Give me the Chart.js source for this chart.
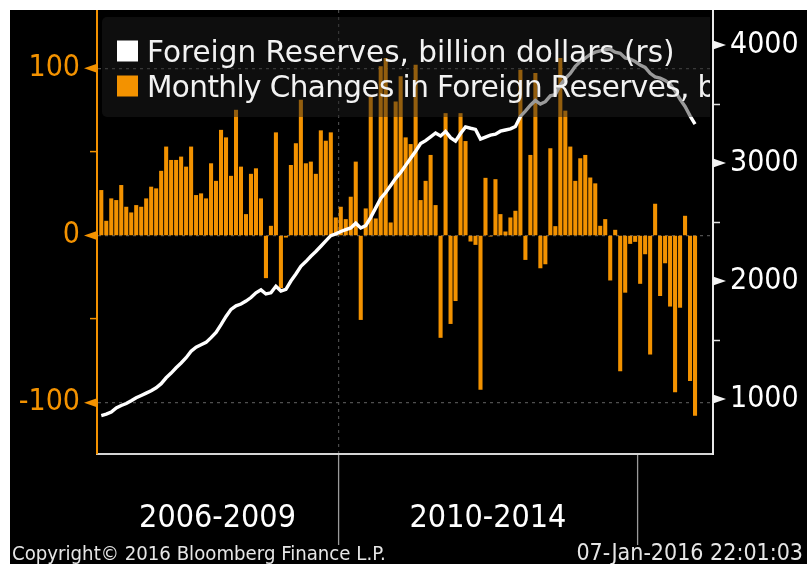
<!DOCTYPE html>
<html>
<head>
<meta charset="utf-8">
<script src="https://cdn.jsdelivr.net/npm/chart.js@4.4.1/dist/chart.umd.min.js"></script>
<style>
  html, body { margin: 0; padding: 0; background: #fff; }
  #wrap { position: absolute; left: 10px; top: 10px; width: 797px; height: 554px; background: #000; }
</style>
</head>
<body>
<div id="wrap"><canvas id="reserveChart" width="797" height="554"></canvas></div>
<script>
// Monthly data, Jan 2006 .. Dec 2015
const reserveLabel = "Foreign Reserves, billion dollars (rs)";
const changeLabel = "Monthly Changes in Foreign Reserves, billion dollars";

// foreign reserves, billion dollars (right scale)
const reserves = [
  860, 872, 890, 925, 945, 962, 985, 1010, 1030, 1050,
  1070, 1095, 1130, 1180, 1220, 1265, 1305, 1350, 1405, 1440,
  1460, 1480, 1520, 1565, 1630, 1700, 1760, 1790, 1805, 1830,
  1860, 1900, 1925, 1890, 1900, 1955, 1915, 1930, 2000, 2060,
  2125, 2165, 2210, 2250, 2295, 2340, 2385, 2400, 2420, 2435,
  2450, 2490, 2450, 2470, 2540, 2620, 2700, 2750, 2810, 2870,
  2920, 2980, 3040, 3100, 3165, 3190, 3222, 3255, 3230, 3268,
  3215, 3186, 3250, 3306, 3295, 3285, 3203, 3220, 3236, 3245,
  3270, 3280, 3290, 3310, 3395, 3440, 3490, 3530, 3500, 3520,
  3570, 3580, 3660, 3715, 3760, 3820, 3860, 3890, 3920, 3940,
  3950, 3960, 3965, 3940, 3930, 3890, 3880, 3860, 3830, 3810,
  3760, 3730, 3720, 3700, 3670, 3610, 3540, 3480, 3400, 3330
];

// monthly changes, billion dollars (left scale)
const changes = [
  27, 8.6, 22, 21, 30, 17, 13.6, 18, 17, 22,
  29, 28, 38.5, 53, 45, 45, 47, 41, 53, 24,
  25, 22, 43, 32.5, 63, 58.5, 35.5, 75, 41, 12.6,
  36.7, 40, 22, -25.3, 5.6, 61.5, -31.3, -1, 42, 55,
  81, 43, 44, 36.7, 62.7, 56.5, 61.5, 10.6, 17, 9.6,
  23, 44, -50.3, 16, 83, 10, 101, 106, 7.6, 80,
  95, 58.5, 54.5, 102, 21, 32.5, 48, 18, -61, 73,
  -52.7, -39, 73, 56.3, -3.4, -5.4, -92, 34.3, -0.4, 33.5,
  12.6, 2.2, 10.6, 14.6, 99, -14.4, 48, 97, -19.4, -17,
  52, 5.4, 106, 74.5, 53, 32.5, 46, 48, 34.5, 31,
  5.6, 9.6, -26.7, 3.2, -81, -34, -4.8, -3.6, -28.7, -11,
  -71, 18.8, -36, -16.4, -42.3, -93.6, -43, 11.6, -86.8, -107.6
];

// x axis: month index 0 = Jan 2006; period boundaries and period labels
const periodBreaks = [47.5, 107.5];
const periodCenters = [23.3, 77.5];
const periodLabels = ["2006-2009", "2010-2014"];

const leftTicks = [-100, -50, 0, 50, 100];
const rightTicks = [1000, 1500, 2000, 2500, 3000, 3500, 4000];

const copyrightText = "Copyright\u00A9 2016 Bloomberg Finance L.P.";
const stampText = "07-Jan-2016 22:01:03";

const ORANGE = "#f39200";
const CLEAR = "rgba(0,0,0,0)";
const NARROW = '"DejaVu Sans Condensed", "Liberation Sans Narrow", "Liberation Sans", sans-serif';
const LEGEND_FONT = '"DejaVu Sans", Verdana, sans-serif';

// legend, axis triangles and footer, Bloomberg style
const bbgDecor = {
    id: "bbgDecor",
    afterDatasetsDraw(chart) {
        const { ctx, chartArea } = chart;
        ctx.save();
        ctx.beginPath();
        ctx.rect(chartArea.left, chartArea.top, chartArea.right - chartArea.left - 3, chartArea.bottom - chartArea.top);
        ctx.clip();

        const x0 = chartArea.left + 5;
        const y0 = chartArea.top + 7;
        ctx.fillStyle = "rgba(30,30,30,0.45)";
        ctx.beginPath();
        ctx.roundRect(x0, y0, 640, 100, 5);
        ctx.fill();

        ctx.font = "29.5px " + LEGEND_FONT;
        ctx.textBaseline = "alphabetic";
        const ds = chart.data.datasets;
        ds.forEach((d, i) => {
            const base = y0 + 45 + i * 35;
            ctx.fillStyle = d.type === "line" ? d.borderColor : d.backgroundColor;
            ctx.fillRect(x0 + 15, base - 21.5, 21, 21);
            ctx.fillStyle = "#f2f2f2";
            ctx.letterSpacing = i === 0 ? "0px" : "-0.6px";
            ctx.fillText(d.label, x0 + 45, base);
        });
        ctx.restore();
    },
    afterDraw(chart) {
        const { ctx, chartArea, scales } = chart;
        ctx.save();

        // major tick markers
        const tri = (xAxis, yPix, dir, color) => {
            ctx.fillStyle = color;
            ctx.beginPath();
            ctx.moveTo(xAxis, yPix - 4.5);
            ctx.lineTo(xAxis + dir * 13, yPix);
            ctx.lineTo(xAxis, yPix + 4.5);
            ctx.closePath();
            ctx.fill();
        };
        leftTicks.filter(v => v % 100 === 0).forEach(v => {
            tri(chartArea.left, scales.yLeft.getPixelForValue(v), -1, ORANGE);
        });
        rightTicks.filter(v => v % 1000 === 0).forEach(v => {
            tri(chartArea.right, scales.yRight.getPixelForValue(v), 1, "#f4f4f4");
        });

        // footer
        ctx.fillStyle = "#e6e6e6";
        ctx.textBaseline = "alphabetic";
        ctx.textAlign = "left";
        ctx.font = "20.2px " + NARROW;
        ctx.fillText(copyrightText, 2, chart.height - 4);
        ctx.textAlign = "right";
        ctx.font = "23px " + NARROW;
        ctx.fillText(stampText, chart.width - 4, chart.height - 4);
        ctx.restore();
    }
};

const noPad = s => { s.paddingTop = 0; s.paddingBottom = 0; s.paddingLeft = 0; s.paddingRight = 0; };

const ctx = document.getElementById("reserveChart").getContext("2d");
new Chart(ctx, {
    type: "bar",
    data: {
        datasets: [
            {
                type: "line",
                label: reserveLabel,
                data: reserves.map((v, i) => ({ x: i, y: v })),
                yAxisID: "yRight",
                borderColor: "#ffffff",
                borderWidth: 3.4,
                pointRadius: 0,
                tension: 0,
                order: 0
            },
            {
                type: "bar",
                label: changeLabel,
                data: changes.map((v, i) => ({ x: i, y: v })),
                yAxisID: "yLeft",
                backgroundColor: ORANGE,
                barThickness: 3.4,
                order: 1
            }
        ]
    },
    options: {
        responsive: false,
        animation: false,
        devicePixelRatio: 1,
        layout: { padding: 0 },
        plugins: { legend: { display: false }, tooltip: { enabled: false } },
        scales: {
            x: {
                type: "linear",
                position: "bottom",
                min: -0.86,
                max: 122.6,
                offset: false,
                afterBuildTicks: s => { s.ticks = periodBreaks.concat(periodCenters).map(v => ({ value: v })); },
                afterFit: s => { s.height = 110; noPad(s); },
                grid: {
                    offset: false,
                    drawOnChartArea: true,
                    color: c => (c.tick && c.tick.value === periodBreaks[0]) ? "#4a4a4a" : CLEAR,
                    lineWidth: 1.2,
                    tickLength: 91,
                    tickWidth: 1.3,
                    tickColor: c => (c.tick && periodBreaks.includes(c.tick.value)) ? "#9a9a9a" : CLEAR
                },
                border: { color: "#d4d4d4", width: 2, dash: [3, 4] },
                ticks: {
                    autoSkip: false,
                    maxRotation: 0,
                    padding: -46,
                    color: "#ffffff",
                    font: { family: NARROW, size: 32 },
                    callback: v => {
                        const k = periodCenters.indexOf(v);
                        return k >= 0 ? periodLabels[k] : "";
                    }
                }
            },
            yLeft: {
                type: "linear",
                position: "left",
                min: -130.7,
                max: 134.9,
                afterBuildTicks: s => { s.ticks = leftTicks.map(v => ({ value: v })); },
                afterFit: s => { s.width = 87; noPad(s); },
                grid: {
                    drawOnChartArea: true,
                    color: c => (c.tick && c.tick.value % 100 === 0) ? "#4f4f4f" : CLEAR,
                    lineWidth: 1.2,
                    tickLength: 7,
                    tickWidth: 1.5,
                    tickColor: c => (c.tick && c.tick.value % 100 === 0) ? CLEAR : ORANGE
                },
                border: { color: ORANGE, width: 2, dash: [3, 4] },
                ticks: {
                    color: ORANGE,
                    padding: 10,
                    font: { family: NARROW, size: 30 },
                    callback: v => (v % 100 === 0 ? String(v) : "")
                }
            },
            yRight: {
                type: "linear",
                position: "right",
                min: 534,
                max: 4297,
                afterBuildTicks: s => { s.ticks = rightTicks.map(v => ({ value: v })); },
                afterFit: s => { s.width = 94; noPad(s); },
                grid: {
                    drawOnChartArea: false,
                    tickLength: 7,
                    tickWidth: 1.5,
                    tickColor: c => (c.tick && c.tick.value % 1000 === 0) ? CLEAR : "#e0e0e0"
                },
                border: { color: "#e8e8e8", width: 2 },
                ticks: {
                    color: "#ffffff",
                    padding: 10,
                    font: { family: NARROW, size: 30 },
                    callback: v => (v % 1000 === 0 ? String(v) : "")
                }
            }
        }
    },
    plugins: [bbgDecor]
});
</script>
</body>
</html>
